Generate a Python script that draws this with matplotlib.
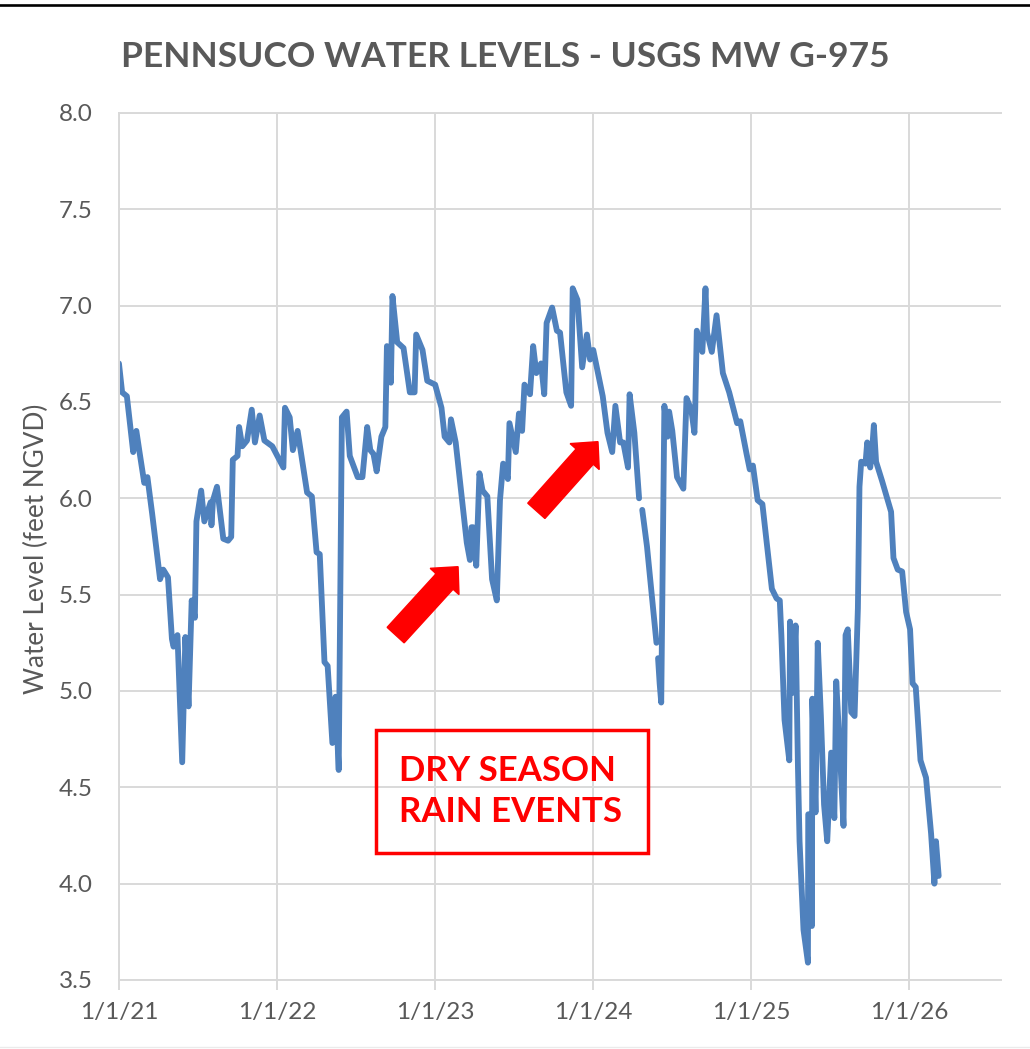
import numpy as np
import pandas as pd
import matplotlib
matplotlib.use("Agg")
import matplotlib.pyplot as plt
import matplotlib.dates as mdates
from matplotlib.patches import FancyArrow, Rectangle
from matplotlib.lines import Line2D
from matplotlib.transforms import IdentityTransform

plt.rcParams['font.family'] = ['Lato', 'DejaVu Sans']

# readings, time as decimal year (nan = gap in record)
year_frac = [
    2021.00, 2021.02, 2021.05, 2021.09, 2021.11, 2021.13, 2021.16, 2021.18, 2021.21, 2021.26,
    2021.28, 2021.31, 2021.335, 2021.345, 2021.37, 2021.40, 2021.42, 2021.44, 2021.46, 2021.48,
    2021.49, 2021.52, 2021.54, 2021.58, 2021.585, 2021.595, 2021.62, 2021.66, 2021.69, 2021.71,
    2021.72, 2021.75, 2021.76, 2021.78, 2021.81, 2021.84, 2021.86, 2021.89, 2021.92, 2021.97,
    2022.04, 2022.05, 2022.08, 2022.10, 2022.13, 2022.19, 2022.22, 2022.25, 2022.27, 2022.30,
    2022.32, 2022.35, 2022.37, 2022.39, 2022.41, 2022.44, 2022.46, 2022.51, 2022.54, 2022.57,
    2022.59, 2022.61, 2022.63, 2022.66, 2022.685, 2022.695, 2022.72, 2022.73, 2022.76, 2022.80,
    2022.84, 2022.87, 2022.88, 2022.92, 2022.95, 2023.00, 2023.04, 2023.06, 2023.09, 2023.10,
    2023.13, 2023.17, 2023.20, 2023.22, 2023.23, 2023.24, 2023.26, 2023.28, 2023.30, 2023.33,
    2023.36, 2023.39, 2023.41, 2023.43, 2023.46, 2023.47, 2023.51, 2023.53, 2023.55, 2023.565,
    2023.60, 2023.62, 2023.64, 2023.67, 2023.69, 2023.705, 2023.74, 2023.77, 2023.79, 2023.83,
    2023.86, 2023.87, 2023.90, 2023.93, 2023.96, 2023.98, 2024.00, 2024.04, 2024.06, 2024.09,
    2024.12, 2024.14, 2024.17, 2024.19, 2024.22, 2024.23, 2024.26, 2024.29, 2024.30, 2024.31,
    2024.34, 2024.40, 2024.405, 2024.41, 2024.42, 2024.43, 2024.45, 2024.47, 2024.48, 2024.50,
    2024.53, 2024.57, 2024.59, 2024.62, 2024.64, 2024.645, 2024.655, 2024.69, 2024.71, 2024.72,
    2024.75, 2024.78, 2024.82, 2024.86, 2024.91, 2024.93, 2024.97, 2024.99, 2025.01, 2025.04,
    2025.07, 2025.13, 2025.16, 2025.18, 2025.19, 2025.21, 2025.24, 2025.245, 2025.26, 2025.28,
    2025.295, 2025.305, 2025.33, 2025.358, 2025.36, 2025.38, 2025.383, 2025.386, 2025.406, 2025.42,
    2025.44, 2025.46, 2025.48, 2025.505, 2025.525, 2025.537, 2025.558, 2025.583, 2025.596, 2025.61,
    2025.632, 2025.653, 2025.674, 2025.684, 2025.695, 2025.722, 2025.733, 2025.752, 2025.764, 2025.775,
    2025.789, 2025.827, 2025.884, 2025.899, 2025.926, 2025.954, 2025.979, 2026.004, 2026.02, 2026.04,
    2026.07, 2026.105, 2026.137, 2026.158, 2026.168, 2026.185,
]
level_ft = [
    6.70, 6.55, 6.53, 6.24, 6.35, 6.24, 6.08, 6.11, 5.92, 5.58,
    5.63, 5.59, 5.27, 5.23, 5.29, 4.63, 5.28, 4.92, 5.47, 5.38,
    5.88, 6.04, 5.88, 5.98, 5.86, 5.99, 6.06, 5.79, 5.78, 5.80,
    6.20, 6.22, 6.37, 6.27, 6.30, 6.46, 6.29, 6.43, 6.30, 6.27,
    6.16, 6.47, 6.42, 6.25, 6.35, 6.03, 6.01, 5.72, 5.71, 5.15,
    5.13, 4.73, 4.97, 4.59, 6.42, 6.45, 6.22, 6.11, 6.11, 6.37,
    6.25, 6.23, 6.14, 6.32, 6.37, 6.79, 6.60, 7.05, 6.81, 6.78,
    6.55, 6.55, 6.85, 6.77, 6.61, 6.59, 6.47, 6.32, 6.29, 6.41,
    6.29, 5.99, 5.77, 5.68, 5.85, 5.85, 5.65, 6.13, 6.04, 6.01,
    5.58, 5.47, 5.99, 6.18, 6.10, 6.39, 6.24, 6.44, 6.35, 6.59,
    6.54, 6.79, 6.65, 6.70, 6.54, 6.91, 6.99, 6.87, 6.86, 6.55,
    6.48, 7.09, 7.03, 6.68, 6.85, 6.72, 6.77, 6.61, 6.53, 6.34,
    6.24, 6.48, 6.29, 6.29, 6.16, 6.54, 6.34, 6.00, np.nan, 5.94,
    5.75, 5.25, np.nan, 5.17, 5.04, 4.94, 6.48, 6.32, 6.45, 6.35,
    6.11, 6.05, 6.52, 6.46, 6.34, 6.46, 6.87, 6.76, 7.09, 6.86,
    6.76, 6.95, 6.65, 6.55, 6.39, 6.40, 6.23, 6.15, 6.17, 5.99,
    5.97, 5.53, 5.48, 5.47, 5.29, 4.85, 4.64, 5.36, 4.99, 5.34,
    4.60, 4.22, 3.76, 3.59, 4.36, 4.36, 3.78, 4.96, 4.37, 5.25,
    4.87, 4.41, 4.22, 4.68, 4.34, 5.05, 4.72, 4.30, 5.29, 5.32,
    4.89, 4.87, 5.43, 6.06, 6.19, 6.18, 6.29, 6.16, 6.25, 6.38,
    6.19, 6.09, 5.93, 5.69, 5.63, 5.62, 5.41, 5.32, 5.04, 5.02,
    4.64, 4.55, 4.26, 4.00, 4.22, 4.04,
]

xtick_dates = ['2021-01-01', '2022-01-01', '2023-01-01', '2024-01-01', '2025-01-01', '2026-01-01']
xtick_labels = ['1/1/21', '1/1/22', '1/1/23', '1/1/24', '1/1/25', '1/1/26']
yticks = [3.5, 4.0, 4.5, 5.0, 5.5, 6.0, 6.5, 7.0, 7.5, 8.0]

# arrows pointing at the dry season rain events: (year, level) of tail and tip
arrow_tails = [(2022.750, 5.29), (2023.640, 5.935)]
arrow_tips = [(2023.145, 5.645), (2024.030, 6.294)]


def to_date(yr):
    return pd.Timestamp('2021-01-01') + pd.to_timedelta((np.asarray(yr) - 2021) * 365.25, unit='D')


dates = to_date(year_frac)
grey = '#595959'
gridc = '#D9D9D9'

fig = plt.figure(figsize=(10.30, 10.49), dpi=100)
ax = fig.add_axes([0.1155, 0.0658, 0.856, 0.8265])

ax.plot(dates, level_ft, color='#4F81BD', lw=4.2, solid_joinstyle='round', solid_capstyle='round')

ax.set_xlim(pd.Timestamp('2021-01-01'), pd.Timestamp('2026-07-31'))
ax.set_ylim(3.5, 8.0)
ax.set_xticks(pd.to_datetime(xtick_dates))
ax.set_xticklabels(xtick_labels)
ax.set_yticks(yticks)
ax.set_yticklabels([f'{v:.1f}' for v in yticks])

ax.grid(True, color=gridc, lw=1.4)
ax.set_axisbelow(True)
for side in ['left', 'bottom', 'top']:
    ax.spines[side].set_color(gridc)
    ax.spines[side].set_linewidth(1.4)
ax.spines['right'].set_visible(False)
ax.tick_params(axis='x', length=7.2, width=1.4, color=gridc, labelcolor=grey, labelsize=17.5, pad=9)
ax.tick_params(axis='y', length=0, labelcolor=grey, labelsize=17.5, pad=19)

fig.text(0.035, 0.477, 'Water Level (feet NGVD)', rotation=90, ha='center', va='center',
         fontsize=18.8, color=grey)
fig.text(0.491, 0.946, 'PENNSUCO WATER LEVELS - USGS MW G-975', ha='center', va='center',
         fontsize=25.5, fontweight='bold', color=grey)

# callout box
ax.add_patch(Rectangle((0.291, 0.1465), 0.309, 0.1419, transform=ax.transAxes,
                       fill=False, edgecolor='#FF0000', lw=2.5, zorder=5))
ax.text(0.318, 0.2174, 'DRY SEASON\nRAIN EVENTS', transform=ax.transAxes, ha='left', va='center',
        fontsize=25, fontweight='bold', color='#FF0000', linespacing=1.35, zorder=5)

# block arrows drawn in pixel space so they keep their shape
for tail, tip in zip(arrow_tails, arrow_tips):
    p0 = ax.transData.transform((mdates.date2num(to_date(tail[0])), tail[1]))
    p1 = ax.transData.transform((mdates.date2num(to_date(tip[0])), tip[1]))
    fig.add_artist(FancyArrow(p0[0], p0[1], p1[0] - p0[0], p1[1] - p0[1], width=23,
                              head_width=39, head_length=20, length_includes_head=True,
                              color='#FF0000', transform=IdentityTransform(), zorder=6))

# frame lines of the screenshot
fig.add_artist(Line2D([0, 1], [0.9952, 0.9952], color='black', lw=1.9))
fig.add_artist(Line2D([0, 1], [0.0015, 0.0015], color='#EBEBEB', lw=1))

fig.savefig('out.png', dpi=100)
